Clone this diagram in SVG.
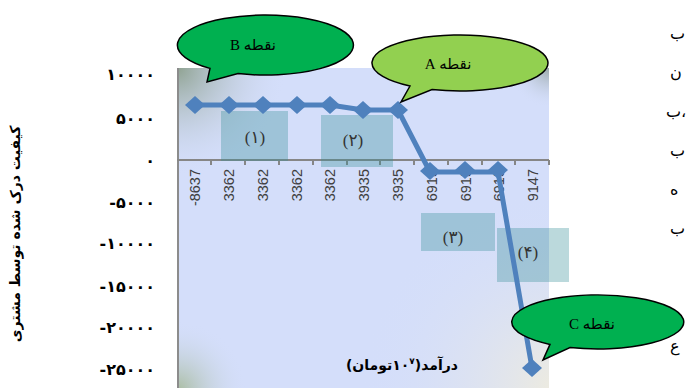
<svg xmlns="http://www.w3.org/2000/svg" width="686" height="390" viewBox="0 0 686 390">
<style>
.ylab{font-family:"DejaVu Sans","Liberation Sans",sans-serif;font-weight:bold;font-size:16px;fill:#000;text-anchor:end}
.cat{font-family:"Liberation Sans","DejaVu Sans",sans-serif;font-size:14.5px;fill:#404040;text-anchor:end}
.box{fill:#318d96;fill-opacity:0.33}
.seg{font-family:"Liberation Serif","DejaVu Sans",serif;font-size:17px;fill:#333;text-anchor:middle}
.call{stroke:#000;stroke-width:1.5}
.ctext{font-family:"Liberation Serif","DejaVu Sans",serif;font-size:15px;fill:#000;text-anchor:middle}
.edge{font-family:"Liberation Serif","DejaVu Sans",serif;font-size:16px;fill:#000}
.title{font-family:"DejaVu Sans","Liberation Sans",sans-serif;font-weight:bold;font-size:14px;fill:#000;text-anchor:middle}
</style>
<defs>
<radialGradient id="gTL" cx="177" cy="68" r="110" gradientUnits="userSpaceOnUse">
<stop offset="0" stop-color="#8fa291"/><stop offset="1" stop-color="#d4defa" stop-opacity="0"/>
</radialGradient>
<radialGradient id="gBL" cx="177" cy="390" r="70" gradientUnits="userSpaceOnUse">
<stop offset="0" stop-color="#a9bca0"/><stop offset="1" stop-color="#d4defa" stop-opacity="0"/>
</radialGradient>
<radialGradient id="gBR" cx="560" cy="390" r="200" gradientUnits="userSpaceOnUse">
<stop offset="0" stop-color="#efecde"/><stop offset="1" stop-color="#d4defa" stop-opacity="0"/>
</radialGradient>
<radialGradient id="gTR" cx="549" cy="68" r="40" gradientUnits="userSpaceOnUse">
<stop offset="0" stop-color="#9aa8a8"/><stop offset="1" stop-color="#d4defa" stop-opacity="0"/>
</radialGradient>
<path id="dia" d="M0,-9 L10,0 L0,9 L-10,0 Z" fill="#4f81bd"/>
</defs>
<rect width="686" height="390" fill="#fff"/>

<g id="plot-area">
<rect x="177" y="68" width="372" height="320" fill="#d4defa"/>
<rect x="177" y="68" width="372" height="320" fill="url(#gTL)"/>
<rect x="177" y="68" width="372" height="320" fill="url(#gBL)"/>
<rect x="177" y="68" width="372" height="320" fill="url(#gBR)"/>
<rect x="177" y="68" width="372" height="320" fill="url(#gTR)"/>
<line x1="178" y1="68" x2="178" y2="388" stroke="#8c8c8c" stroke-width="2"/>
</g>

<g id="x-axis" stroke="#868686" stroke-width="2" fill="none">
<line x1="177" y1="160" x2="549" y2="160"/>
<path d="M211,160v5M245,160v5M279,160v5M313,160v5M347,160v5M380,160v5M414,160v5M448,160v5M482,160v5M515,160v5M549,160v5"/>
</g>

<g id="y-labels">
<text class="ylab" x="155" y="80">۱۰۰۰۰</text>
<text class="ylab" x="155" y="124">۵۰۰۰</text>
<text class="ylab" x="155" y="166">۰</text>
<text class="ylab" x="155" y="208">-۵۰۰۰</text>
<text class="ylab" x="155" y="249">-۱۰۰۰۰</text>
<text class="ylab" x="155" y="292">-۱۵۰۰۰</text>
<text class="ylab" x="155" y="333">-۲۰۰۰۰</text>
<text class="ylab" x="155" y="375">-۲۵۰۰۰</text>
</g>

<g id="y-title">
<text class="title" transform="translate(20,234) rotate(-90)" direction="rtl" font-size="15.5">کیفیت درک شده توسط مشتری</text>
</g>

<g id="x-labels">
<text class="cat" transform="translate(200,169) rotate(-90)">-8637</text>
<text class="cat" transform="translate(234,169) rotate(-90)">3362</text>
<text class="cat" transform="translate(268,169) rotate(-90)">3362</text>
<text class="cat" transform="translate(302,169) rotate(-90)">3362</text>
<text class="cat" transform="translate(335,169) rotate(-90)">3362</text>
<text class="cat" transform="translate(369,169) rotate(-90)">3935</text>
<text class="cat" transform="translate(403,169) rotate(-90)">3935</text>
<text class="cat" transform="translate(437,169) rotate(-90)">6915</text>
<text class="cat" transform="translate(471,169) rotate(-90)">6915</text>
<text class="cat" transform="translate(504,169) rotate(-90)">6915</text>
<text class="cat" transform="translate(538,169) rotate(-90)">9147</text>
</g>

<g id="x-title">
<text class="title" x="402" y="370" direction="rtl">درآمد(۱۰<tspan font-size="9" baseline-shift="6">۷</tspan>تومان)</text>
</g>

<g id="region1"><rect class="box" x="221" y="111" width="67" height="50"/><text class="seg" x="255" y="143">(۱)</text></g>
<g id="region2"><rect class="box" x="321" y="115" width="72" height="52"/><text class="seg" x="353" y="146">(۲)</text></g>
<g id="region3"><rect class="box" x="421" y="213" width="74" height="38"/><text class="seg" x="453" y="243">(۳)</text></g>
<g id="region4"><rect class="box" x="497" y="228" width="72" height="54"/><text class="seg" x="528" y="258">(۴)</text></g>

<g id="connectors">
<polyline fill="none" stroke="#4f81bd" stroke-width="5" stroke-linejoin="round" points="195,105 229,105 263,105 297,105 330,105 363,110 398,110 430,172 465,172 498,172 532,368"/>
</g>

<g id="markers">
<use href="#dia" x="195" y="105"/>
<use href="#dia" x="229" y="105"/>
<use href="#dia" x="263" y="105"/>
<use href="#dia" x="297" y="105"/>
<use href="#dia" x="330" y="105"/>
<use href="#dia" x="363" y="110"/>
<use href="#dia" x="398" y="110"/>
<use href="#dia" x="430" y="171"/>
<use href="#dia" x="465" y="170"/>
<use href="#dia" x="498" y="170"/>
<use href="#dia" x="532" y="368"/>
</g>

<g id="callout-B">
<path class="call" fill="#00b050" d="M210,68.4 L207,82 L238,73.6 A88,30 0 1 0 210,68.4 Z"/>
<text class="ctext" x="253" y="50" direction="rtl">نقطه B</text>
</g>

<g id="callout-A">
<path class="call" fill="#92d050" d="M410,86 L401,102 L432,89.5 A88,28 0 1 0 410,86 Z"/>
<text class="ctext" x="448" y="69" direction="rtl">نقطه A</text>
</g>

<g id="callout-C">
<path class="call" fill="#00b050" d="M550,344.4 L543,360 L570,347.5 A86,27 0 1 0 550,344.4 Z"/>
<text class="ctext" x="592" y="329" direction="rtl">نقطه C</text>
</g>

<g id="edge-text">
<text class="edge" x="670" y="39">ب</text>
<text class="edge" x="670" y="78">ن</text>
<text class="edge" x="666" y="117" direction="ltr" unicode-bidi="bidi-override">ب،</text>
<text class="edge" x="670" y="156">ب</text>
<text class="edge" x="670" y="195">ه</text>
<text class="edge" x="670" y="234">ب</text>
<text class="edge" x="670" y="351">ع</text>
</g>
</svg>
